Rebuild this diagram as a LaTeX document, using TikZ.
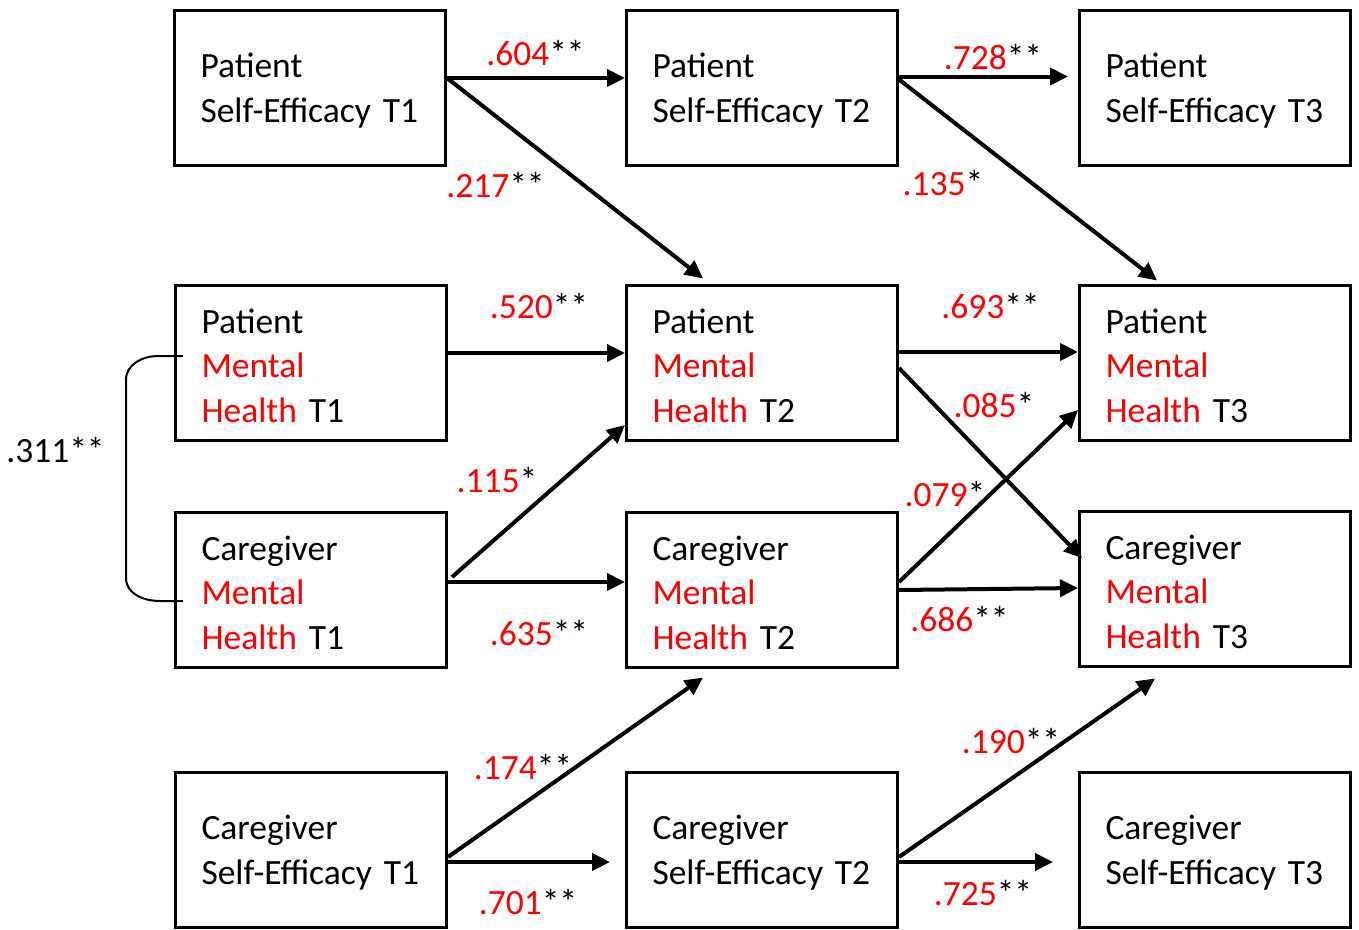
\documentclass[tikz,border=0pt]{standalone}
\usepackage{fontspec}
\setmainfont{Carlito}
\usetikzlibrary{arrows.meta}

\begin{document}
\begin{tikzpicture}[x=1pt,y=-1pt,font=\fontsize{35.5pt}{44.5pt}\selectfont,
  var node/.style={draw,line width=3pt,minimum width=271pt,minimum height=155pt,text width=219pt,inner xsep=26pt,inner ysep=0pt,align=left,execute at begin node=\rule{0pt}{31pt}},
  coef/.style={inner sep=0pt},
  >={Triangle[length=18pt,width=17pt]}]

  \useasboundingbox (0,0) rectangle (1359,929);

  % Define variables by coordinates
  \node[var node] (PSE1) at (310,87.5) {Patient\\Self-Efficacy T1};
  \node[var node] (PSE2) at (762,87.5) {Patient\\Self-Efficacy T2};
  \node[var node] (PSE3) at (1215,87.5) {Patient\\Self-Efficacy T3};
  \node[var node] (PMH1) at (311,362.5) {Patient\\\textcolor{red}{Mental}\\\textcolor{red}{Health} T1};
  \node[var node] (PMH2) at (762,362.5) {Patient\\\textcolor{red}{Mental}\\\textcolor{red}{Health} T2};
  \node[var node] (PMH3) at (1215,362.5) {Patient\\\textcolor{red}{Mental}\\\textcolor{red}{Health} T3};
  \node[var node] (CMH1) at (311,589.5) {Caregiver\\\textcolor{red}{Mental}\\\textcolor{red}{Health} T1};
  \node[var node] (CMH2) at (762,589.5) {Caregiver\\\textcolor{red}{Mental}\\\textcolor{red}{Health} T2};
  \node[var node] (CMH3) at (1215,588.5) {Caregiver\\\textcolor{red}{Mental}\\\textcolor{red}{Health} T3};
  \node[var node] (CSE1) at (311,849.5) {Caregiver\\Self-Efficacy T1};
  \node[var node] (CSE2) at (762,849.5) {Caregiver\\Self-Efficacy T2};
  \node[var node] (CSE3) at (1215,849.5) {Caregiver\\Self-Efficacy T3};

  % Path coefficients
  \node[coef] (c604) at (535.5,53.5) {\textcolor{red}{.604}**};
  \node[coef] (c217) at (495.5,185) {\textcolor{red}{.217}**};
  \node[coef] (c728) at (993,57) {\textcolor{red}{.728}**};
  \node[coef] (c135) at (943,183) {\textcolor{red}{.135}*};
  \node[coef] (c520) at (539,306) {\textcolor{red}{.520}**};
  \node[coef] (c693) at (990.5,306) {\textcolor{red}{.693}**};
  \node[coef] (c085) at (994,405) {\textcolor{red}{.085}*};
  \node[coef] (c115) at (497,480) {\textcolor{red}{.115}*};
  \node[coef] (c079) at (945,494) {\textcolor{red}{.079}*};
  \node[coef] (c635) at (539,633) {\textcolor{red}{.635}**};
  \node[coef] (c686) at (959.5,619) {\textcolor{red}{.686}**};
  \node[coef] (c174) at (523,767) {\textcolor{red}{.174}**};
  \node[coef] (c190) at (1011,741) {\textcolor{red}{.190}**};
  \node[coef] (c701) at (528,902) {\textcolor{red}{.701}**};
  \node[coef] (c725) at (983,893) {\textcolor{red}{.725}**};
  \node[coef] (c311) at (55.5,450) {.311**};

  % Draw the paths
  \path[line width=4pt]
    ([yshift=9.5pt]PSE1.east) edge[->] ([yshift=9.5pt]PSE2.west)
    ([yshift=9.5pt]PSE1.east) edge[->] ([xshift=-59pt,yshift=5pt]PMH2.north)
    ([yshift=11pt]PSE2.east) edge[->] ([xshift=-10pt,yshift=11pt]PSE3.west)
    ([yshift=8pt]PSE2.east) edge[->] ([xshift=-58pt,yshift=3pt]PMH3.north)
    ([yshift=9.5pt]PMH1.east) edge[->] ([yshift=9.5pt]PMH2.west)
    ([yshift=10.5pt]PMH2.east) edge[->] ([yshift=10.5pt]PMH3.west)
    ([yshift=-5.5pt]PMH2.east) edge[->] ([xshift=4pt,yshift=30.5pt]CMH3.west)
    ([xshift=4pt,yshift=12.5pt]CMH1.east) edge[->] ([yshift=-62.5pt]PMH2.west)
    ([yshift=7.5pt]CMH1.east) edge[->] ([yshift=7.5pt]CMH2.west)
    ([yshift=7.5pt]CMH2.east) edge[->] ([yshift=-47.5pt]PMH3.west)
    ([yshift=-0.5pt]CMH2.east) edge[->] ([yshift=0.5pt]CMH3.west)
    ([yshift=-7.5pt]CSE1.east) edge[->] ([xshift=-59pt,yshift=-9pt]CMH2.south)
    ([yshift=-12.5pt]CSE1.east) edge[->] ([xshift=-15pt,yshift=-12.5pt]CSE2.west)
    ([yshift=-7.5pt]CSE2.east) edge[->] ([xshift=-60pt,yshift=-11pt]CMH3.south)
    ([yshift=-12.5pt]CSE2.east) edge[->] ([xshift=-25pt,yshift=-12.5pt]CSE3.west);

  % Correlation between the T1 mental health scores
  \coordinate (corrA) at ([xshift=9pt,yshift=6.5pt]PMH1.west);
  \coordinate (corrB) at ([xshift=9pt,yshift=-11.5pt]CMH1.west);
  \draw[line width=2pt] (corrA) -- ++(-25,0) to[out=180,in=90] (126,380)
    -- (126,578) to[out=-90,in=180] (160,601) -- (corrB);
\end{tikzpicture}
\end{document}
